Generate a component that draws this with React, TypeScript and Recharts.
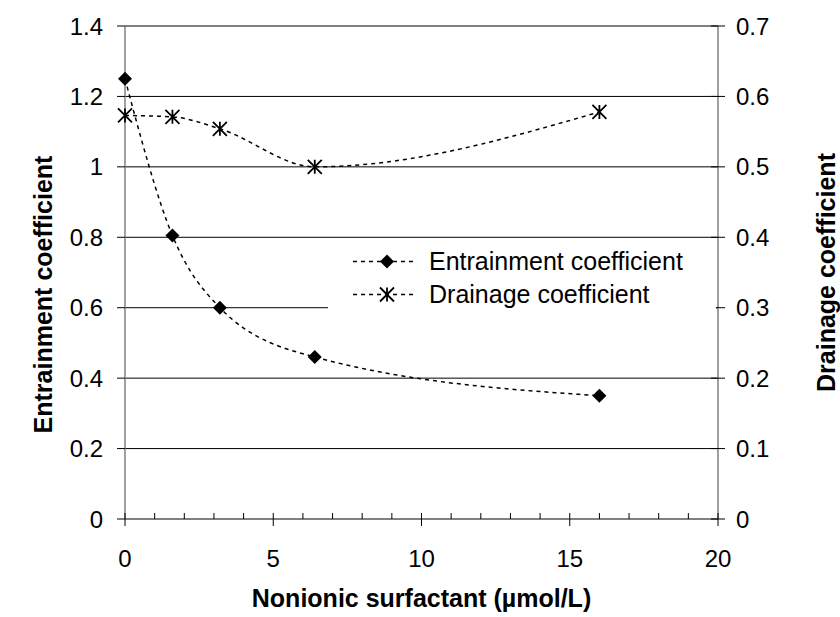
import React from 'react';
import { ComposedChart, Line, XAxis, YAxis, CartesianGrid, Legend, Label } from 'recharts';

const concentration = [0, 1.6, 3.2, 6.4, 16];
const entrainment = [1.25, 0.805, 0.6, 0.46, 0.35];
const drainage = [0.573, 0.571, 0.554, 0.5, 0.578];

const xTicks = [0, 1, 2, 3, 4, 5, 6, 7, 8, 9, 10, 11, 12, 13, 14, 15, 16, 17, 18, 19, 20];
const leftTicks = [0, 0.2, 0.4, 0.6, 0.8, 1, 1.2, 1.4];
const rightTicks = [0, 0.1, 0.2, 0.3, 0.4, 0.5, 0.6, 0.7];

const data = concentration.map((c, i) => ({ c, entrainment: entrainment[i], drainage: drainage[i] }));

const FONT = '"Liberation Sans", Arial, sans-serif';
const AXIS = '#808080';

const Diamond = ({ cx, cy }: any) => {
  if (cx == null || cy == null) return null;
  return <path d={`M${cx},${cy - 7} L${cx + 7},${cy} L${cx},${cy + 7} L${cx - 7},${cy} Z`} fill="#000" />;
};

const Star = ({ cx, cy }: any) => {
  if (cx == null || cy == null) return null;
  const r = 7;
  return (
    <path
      d={`M${cx - r},${cy - r} L${cx + r},${cy + r} M${cx - r},${cy + r} L${cx + r},${cy - r} M${cx},${cy - r} L${cx},${cy + r}`}
      stroke="#000"
      strokeWidth={1.8}
      fill="none"
    />
  );
};

const XTick = ({ x, y, payload }: any) => {
  const v = payload.value;
  const major = v % 5 === 0;
  return (
    <g>
      <line x1={x} x2={x} y1={y - 6} y2={major ? y + 7 : y} stroke="#000" strokeWidth={1} />
      {major && (
        <text x={x} y={y + 48} textAnchor="middle" fontSize={24} fontFamily={FONT} fill="#000">
          {v}
        </text>
      )}
    </g>
  );
};

const LeftTick = ({ x, y, payload }: any) => (
  <g>
    <line x1={x - 8} x2={x} y1={y} y2={y} stroke="#000" strokeWidth={1} />
    <text x={x - 22} y={y + 8.5} textAnchor="end" fontSize={24} fontFamily={FONT} fill="#000">
      {payload.value}
    </text>
  </g>
);

const RightTick = ({ x, y, payload }: any) => (
  <g>
    <line x1={x - 7} x2={x + 7} y1={y} y2={y} stroke="#000" strokeWidth={1} />
    <text x={x + 18} y={y + 8.5} textAnchor="start" fontSize={24} fontFamily={FONT} fill="#000">
      {payload.value}
    </text>
  </g>
);

const legendRows = [
  { name: 'Entrainment coefficient', marker: 'diamond' },
  { name: 'Drainage coefficient', marker: 'star' },
];

const LegendContent = () => (
  <div style={{ background: '#fff', width: 388 }}>
    {legendRows.map((row) => (
      <div key={row.name} style={{ display: 'flex', alignItems: 'center', height: 33 }}>
        <svg width={96} height={33}>
          <line x1={25} x2={89} y1={16.5} y2={16.5} stroke="#000" strokeWidth={1.5} strokeDasharray="4 4" />
          {row.marker === 'diamond' ? <Diamond cx={59} cy={16.5} /> : <Star cx={59} cy={16.5} />}
        </svg>
        <span style={{ fontFamily: FONT, fontSize: 25, color: '#000', marginLeft: 5, whiteSpace: 'nowrap' }}>
          {row.name}
        </span>
      </div>
    ))}
  </div>
);

export default function App() {
  return (
    <div style={{ width: 840, height: 617, background: '#fff' }}>
      <style>{'body{margin:0}'}</style>
      <ComposedChart width={840} height={617} data={data} margin={{ top: 26, right: 0, bottom: 0, left: 0 }}>
        <CartesianGrid yAxisId="left" vertical={false} stroke="#000" strokeWidth={1} />
        <XAxis
          dataKey="c"
          type="number"
          domain={[0, 20]}
          ticks={xTicks}
          interval={0}
          height={98}
          tickSize={0}
          tickMargin={0}
          tickLine={false}
          tick={<XTick />}
          axisLine={{ stroke: AXIS, strokeWidth: 1.5 }}
        >
          <Label
            value="Nonionic surfactant (µmol/L)"
            position="center"
            dy={30}
            style={{ fontFamily: FONT, fontSize: 25, fontWeight: 'bold', fill: '#000' }}
          />
        </XAxis>
        <YAxis
          yAxisId="left"
          domain={[0, 1.4]}
          ticks={leftTicks}
          interval={0}
          width={125}
          tickSize={0}
          tickMargin={0}
          tickLine={false}
          tick={<LeftTick />}
          axisLine={{ stroke: AXIS, strokeWidth: 1.5 }}
        >
          <Label
            value="Entrainment coefficient"
            angle={-90}
            position="center"
            dx={-19}
            dy={22}
            style={{ fontFamily: FONT, fontSize: 25, fontWeight: 'bold', fill: '#000' }}
          />
        </YAxis>
        <YAxis
          yAxisId="right"
          orientation="right"
          domain={[0, 0.7]}
          ticks={rightTicks}
          interval={0}
          width={122}
          tickSize={0}
          tickMargin={0}
          tickLine={false}
          tick={<RightTick />}
          axisLine={{ stroke: AXIS, strokeWidth: 1.5 }}
        >
          <Label
            value="Drainage coefficient"
            angle={-90}
            position="center"
            dx={47}
            dy={0}
            style={{ fontFamily: FONT, fontSize: 25, fontWeight: 'bold', fill: '#000' }}
          />
        </YAxis>
        <Legend
          layout="vertical"
          align="center"
          verticalAlign="middle"
          wrapperStyle={{ left: 328, top: 245, width: 388 }}
          content={<LegendContent />}
        />
        <Line
          yAxisId="left"
          type="monotone"
          dataKey="entrainment"
          name="Entrainment coefficient"
          stroke="#000"
          strokeWidth={1.5}
          strokeDasharray="4 4"
          dot={<Diamond />}
          activeDot={false}
          isAnimationActive={false}
        />
        <Line
          yAxisId="right"
          type="monotone"
          dataKey="drainage"
          name="Drainage coefficient"
          stroke="#000"
          strokeWidth={1.5}
          strokeDasharray="4 4"
          dot={<Star />}
          activeDot={false}
          isAnimationActive={false}
        />
      </ComposedChart>
    </div>
  );
}
